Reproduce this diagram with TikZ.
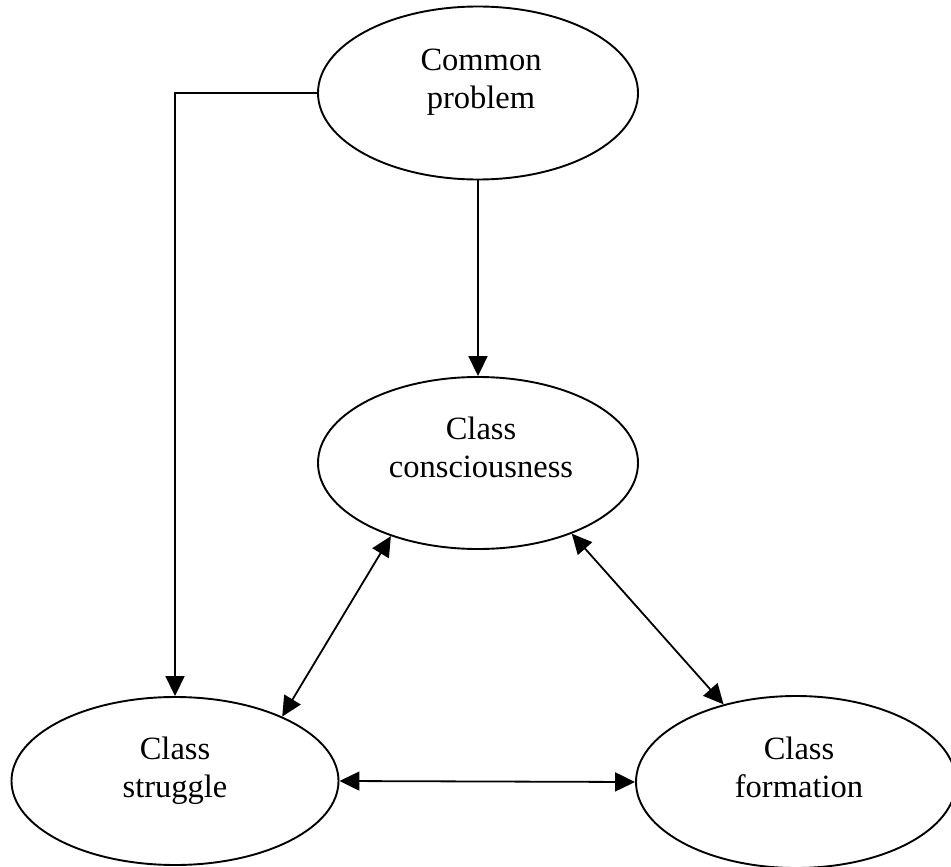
\documentclass[tikz,border=0pt]{standalone}
\usepackage{fontspec}
\setmainfont{Liberation Serif}
\usetikzlibrary{shapes.geometric,arrows.meta}
\tikzset{
  oval/.style={draw,ellipse,line width=1.9pt,inner sep=0pt},
  lbl/.style={align=center,anchor=base,inner sep=0pt,font=\fontsize{32.5}{38}\selectfont},
  conn/.style={line width=1.8pt},
  tip/.style={-{Triangle[length=20pt,width=19pt]}},
  tips/.style={{Triangle[length=20pt,width=19pt]}-{Triangle[length=20pt,width=19pt]}}
}
\begin{document}
\begin{tikzpicture}[x=1pt,y=-1pt]
\useasboundingbox (0,0) rectangle (951,867);
\node[oval,minimum width=320pt,minimum height=173pt] (cp) at (478,93) {};
\node[oval,minimum width=320pt,minimum height=172pt] (cc) at (478,463) {};
\node[oval,minimum width=327pt,minimum height=168pt] (cs) at (175,781) {};
\node[oval,minimum width=320pt,minimum height=172pt] (cf) at (796,782) {};
\node[lbl] (cpt) at (481,108) {Common\\problem};
\node[lbl] (cct) at (481,477) {Class\\consciousness};
\node[lbl] (cst) at (175,797) {Class\\struggle};
\node[lbl] (cft) at (799,797) {Class\\formation};
\draw[conn,tip] (cp.west) -| (cs.north);
\draw[conn,tip] (cp.south) -- (cc.north);
\draw[conn,tips] (cc.220) -- (cs.31.6);
\draw[conn,tips] (cc.323) -- (cf.133.4);
\draw[conn,tips] (cs.east) -- (cf.west);
\end{tikzpicture}
\end{document}
